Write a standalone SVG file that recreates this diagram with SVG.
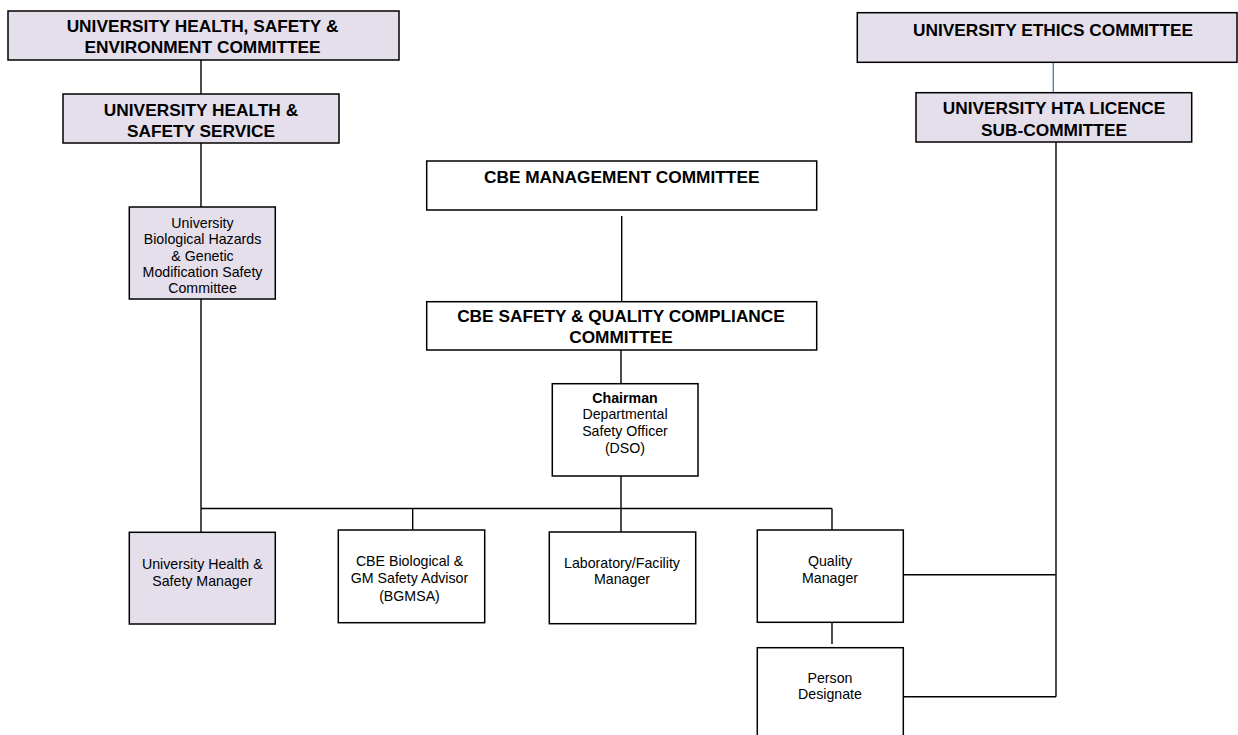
<svg xmlns="http://www.w3.org/2000/svg" width="1238" height="735" viewBox="0 0 1238 735">
<style>
.box{stroke:#000;stroke-width:1.5}
.uni{fill:#E5DFEC}
.cbe{fill:#fff}
.t{font-family:"Liberation Sans",Arial,sans-serif;fill:#000;text-anchor:middle}
.b{font-size:17.3px;font-weight:bold}
.n{font-size:14.2px}
.bb{font-weight:bold}
.ln{stroke:#000;stroke-width:1.4;fill:none}
.blue{stroke:#4F81BD;stroke-width:1.4;fill:none}
</style>
<rect width="1238" height="735" fill="#fff"/>
<g id="connectors">
<line class="ln" x1="201" y1="60" x2="201" y2="94"/>
<line class="ln" x1="201" y1="143" x2="201" y2="207"/>
<line class="ln" x1="201" y1="299" x2="201" y2="532"/>
<line class="ln" x1="201" y1="508.5" x2="832" y2="508.5"/>
<line class="ln" x1="412.7" y1="508.5" x2="412.7" y2="530"/>
<line class="ln" x1="621" y1="476" x2="621" y2="532"/>
<line class="ln" x1="832" y1="508.5" x2="832" y2="530"/>
<line class="ln" x1="621.7" y1="216" x2="621.7" y2="302"/>
<line class="ln" x1="621" y1="350" x2="621" y2="384"/>
<line class="blue" x1="1053.3" y1="62" x2="1053.3" y2="93"/>
<line class="ln" x1="1056" y1="142" x2="1056" y2="696.7"/>
<line class="ln" x1="903" y1="574.7" x2="1056" y2="574.7"/>
<line class="ln" x1="903" y1="696.7" x2="1056" y2="696.7"/>
<line class="ln" x1="832" y1="622" x2="832" y2="644"/>
</g>
<g id="uhsec">
<rect class="box uni" x="8" y="11" width="391" height="49"/>
<text class="t b" x="202.5" y="32.3">UNIVERSITY HEALTH, SAFETY &amp;</text>
<text class="t b" x="202.5" y="53.3">ENVIRONMENT COMMITTEE</text>
</g>
<g id="uhss">
<rect class="box uni" x="63" y="94" width="276" height="49"/>
<text class="t b" x="201" y="116">UNIVERSITY HEALTH &amp;</text>
<text class="t b" x="201" y="136.7">SAFETY SERVICE</text>
</g>
<g id="ubhgm">
<rect class="box uni" x="129.3" y="207" width="146" height="92"/>
<text class="t n" x="202.5" y="227.7">University</text>
<text class="t n" x="202.5" y="244.3">Biological Hazards</text>
<text class="t n" x="202.5" y="260.7">&amp; Genetic</text>
<text class="t n" x="202.5" y="277.3">Modification Safety</text>
<text class="t n" x="202.5" y="293.3">Committee</text>
</g>
<g id="uec">
<rect class="box uni" x="857.3" y="12.7" width="379.7" height="49.6"/>
<text class="t b" x="1053" y="35.7">UNIVERSITY ETHICS COMMITTEE</text>
</g>
<g id="hta">
<rect class="box uni" x="916" y="92.7" width="275.7" height="49.3"/>
<text class="t b" x="1054" y="114">UNIVERSITY HTA LICENCE</text>
<text class="t b" x="1054" y="135.7">SUB-COMMITTEE</text>
</g>
<g id="cbemc">
<rect class="box cbe" x="426.7" y="161" width="390" height="49"/>
<text class="t b" x="621.7" y="183.3">CBE MANAGEMENT COMMITTEE</text>
</g>
<g id="cbesqc">
<rect class="box cbe" x="426.7" y="301.7" width="390" height="48.3"/>
<text class="t b" x="621" y="322.3">CBE SAFETY &amp; QUALITY COMPLIANCE</text>
<text class="t b" x="621" y="343.3">COMMITTEE</text>
</g>
<g id="dso">
<rect class="box cbe" x="552.3" y="383.7" width="145.7" height="92.3"/>
<text class="t n bb" x="625" y="402.7">Chairman</text>
<text class="t n" x="625" y="419.3">Departmental</text>
<text class="t n" x="625" y="436">Safety Officer</text>
<text class="t n" x="625" y="453">(DSO)</text>
</g>
<g id="uhsm">
<rect class="box uni" x="129.3" y="532.3" width="146" height="91.7"/>
<text class="t n" x="202.3" y="569.3">University Health &amp;</text>
<text class="t n" x="202.3" y="586">Safety Manager</text>
</g>
<g id="bgmsa">
<rect class="box cbe" x="338.3" y="530" width="146.4" height="92.7"/>
<text class="t n" x="409.5" y="566">CBE Biological &amp;</text>
<text class="t n" x="409.5" y="583.3">GM Safety Advisor</text>
<text class="t n" x="409.5" y="600.7">(BGMSA)</text>
</g>
<g id="lfm">
<rect class="box cbe" x="549.3" y="532" width="146.4" height="91.7"/>
<text class="t n" x="622" y="568.3">Laboratory/Facility</text>
<text class="t n" x="622" y="584">Manager</text>
</g>
<g id="qm">
<rect class="box cbe" x="757.3" y="530" width="146" height="92.3"/>
<text class="t n" x="830" y="566">Quality</text>
<text class="t n" x="830" y="582.7">Manager</text>
</g>
<g id="pd">
<rect class="box cbe" x="757.3" y="647.7" width="146" height="100"/>
<text class="t n" x="830" y="682.7">Person</text>
<text class="t n" x="830" y="699.3">Designate</text>
</g>
</svg>
